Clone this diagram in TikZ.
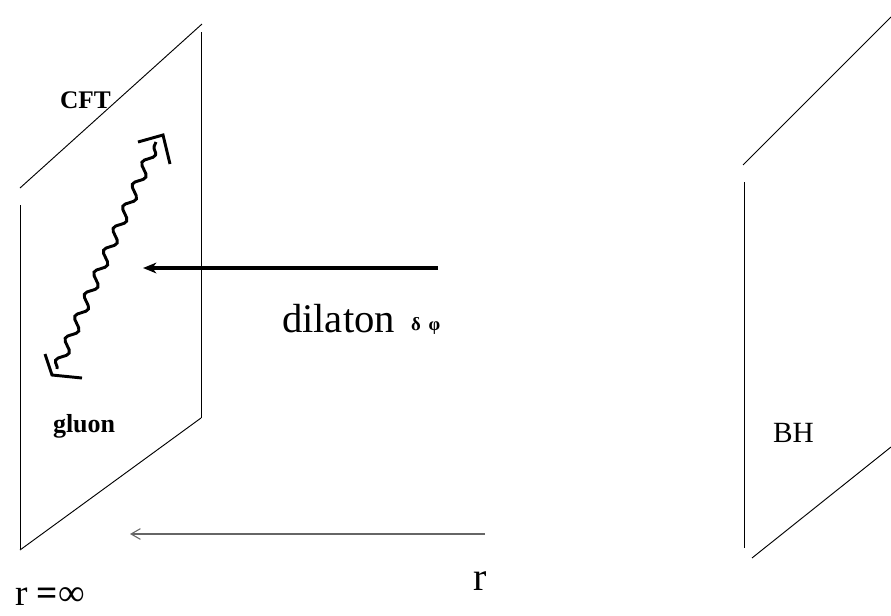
\documentclass[tikz,border=0pt]{standalone}
\usepackage{fontspec}
\setmainfont{Liberation Serif}
\usetikzlibrary{arrows.meta,decorations.pathmorphing}
\begin{document}
\begin{tikzpicture}[x=0.75pt,y=-0.75pt,
  plane/.style={line width=0.7pt,black},
  lbl/.style={anchor=base west,inner sep=0pt,outer sep=0pt},
  wave/.style={line width=2.2pt,decorate,decoration={snake,segment length=18pt,amplitude=3.6pt}},
  bracketline/.style={line width=2.2pt,line join=miter},
  bigarrow/.style={line width=2.4pt,-{Stealth[length=10pt,width=8pt,inset=3pt]}},
  rarrow/.style={line width=1.1pt,draw=black!60,-{Straight Barb[length=7pt,width=8pt,line width=0.8pt]}}]
\useasboundingbox (0,0) rectangle (891,615);
% left plane (CFT)
\coordinate (L1) at (20,188); \coordinate (L2) at (202,24);
\coordinate (L3) at (201,32); \coordinate (L4) at (201,418);
\coordinate (L5) at (20,205); \coordinate (L6) at (20,549);
\coordinate (L7) at (20,550);
\draw[plane] (L1) -- (L2);
\draw[plane] (L3) -- (L4);
\draw[plane] (L5) -- (L6);
\draw[plane] (L7) -- (L4);
% right plane (BH)
\coordinate (R1) at (743,165); \coordinate (R2) at (891,17);
\coordinate (R3) at (744,182); \coordinate (R4) at (744,548);
\coordinate (R5) at (752,558); \coordinate (R6) at (891,447);
\draw[plane] (R1) -- (R2);
\draw[plane] (R3) -- (R4);
\draw[plane] (R5) -- (R6);
% gluon wave
\coordinate (W1) at (57,369); \coordinate (W2) at (156,142);
\draw[wave] (W1) -- (W2);
\coordinate (B1a) at (138,142); \coordinate (B1c) at (163,135); \coordinate (B1b) at (170,164);
\draw[bracketline] (B1a) -- (B1c) -- (B1b);
\coordinate (B2a) at (45,354); \coordinate (B2c) at (52,375); \coordinate (B2b) at (82,378);
\draw[bracketline] (B2a) -- (B2c) -- (B2b);
% dilaton arrow
\coordinate (D1) at (438,268); \coordinate (D2) at (143,268);
\draw[bigarrow] (D1) -- (D2);
% r arrow
\coordinate (A1) at (485,534); \coordinate (A2) at (130,534);
\draw[rarrow] (A1) -- (A2);
% labels
\node[lbl,font=\bfseries\fontsize{19}{22}\selectfont] (cft) at (60,108) {CFT};
\node[lbl,font=\bfseries\fontsize{19.5}{22}\selectfont] (gluon) at (53,432) {gluon};
\node[lbl,font=\fontsize{22}{26}\selectfont] (bh) at (773,442) {BH};
\node[lbl,font=\fontsize{30.5}{34}\selectfont] (dil) at (282,332) {dilaton};
\node[lbl,font=\bfseries\fontsize{14}{16}\selectfont] (dphi) at (411,330) {δ\hspace{6pt}φ};
\node[lbl,font=\fontsize{30}{34}\selectfont] (r) at (473,590) {r};
\node[lbl,font=\fontsize{28}{32}\selectfont] (rinf) at (15,605) {r \textbf{=}∞};
\end{tikzpicture}
\end{document}
